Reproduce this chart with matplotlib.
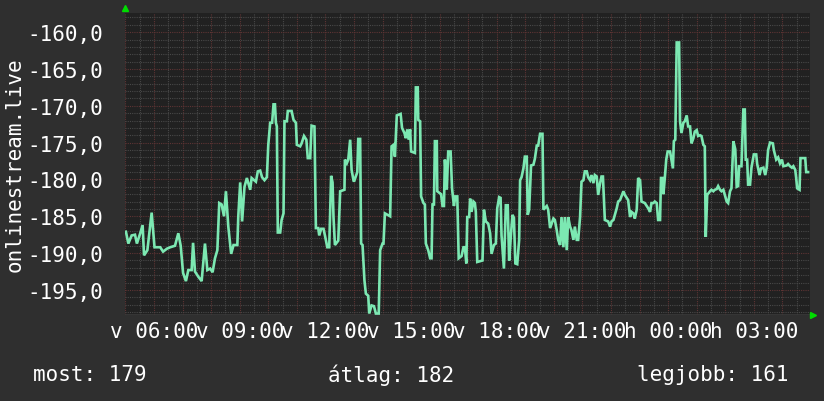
import numpy as np
import matplotlib
matplotlib.use("Agg")
import matplotlib.pyplot as plt
from matplotlib.ticker import MultipleLocator, FixedLocator, FuncFormatter

# minutes since 04:59 (day 1) and signal level
minutes = [
    2, 7, 14, 21, 25, 32, 37, 40, 47, 56, 62, 74, 80, 88, 95, 105, 112, 117, 122, 128,
    133, 140, 143, 147, 154, 161, 168, 173, 179, 184, 189, 194, 198, 203, 208, 212, 217, 223, 228, 236,
    238, 242, 246, 251, 256, 263, 266, 275, 279, 284, 288, 293, 298, 301, 305, 309, 312, 315, 317, 319,
    321, 326, 329, 333, 335, 340, 342, 350, 354, 359, 361, 368, 371, 376, 381, 384, 389, 392, 398, 401,
    406, 408, 412, 417, 420, 425, 429, 433, 436, 438, 441, 448, 452, 461, 462, 466, 469, 473, 476, 480,
    481, 488, 490, 494, 496, 499, 503, 506, 511, 513, 518, 523, 527, 533, 536, 541, 543, 546, 557, 560,
    564, 567, 571, 579, 582, 587, 590, 593, 596, 599, 601, 609, 611, 615, 616, 620, 622, 627, 630, 632,
    637, 641, 644, 646, 649, 651, 655, 656, 664, 667, 670, 672, 676, 679, 684, 687, 691, 694, 698, 701,
    707, 711, 714, 717, 719, 723, 725, 728, 732, 735, 737, 740, 751, 754, 758, 763, 767, 770, 775, 779,
    782, 786, 789, 791, 796, 800, 804, 807, 811, 814, 817, 820, 824, 828, 830, 833, 837, 840, 844, 846,
    849, 853, 858, 861, 865, 868, 872, 877, 879, 886, 889, 893, 900, 903, 907, 910, 914, 917, 921, 924,
    928, 931, 935, 938, 942, 945, 949, 952, 956, 959, 963, 966, 970, 973, 977, 980, 984, 987, 991, 994,
    998, 1001, 1004, 1008, 1015, 1019, 1022, 1026, 1029, 1033, 1036, 1040, 1043, 1047, 1050, 1054, 1057, 1061, 1064, 1068,
    1071, 1075, 1078, 1082, 1085, 1092, 1096, 1099, 1103, 1106, 1110, 1113, 1117, 1120, 1124, 1126, 1129, 1131, 1134, 1137,
    1140, 1145, 1151, 1153, 1156, 1159, 1164, 1166, 1169, 1173, 1176, 1180, 1183, 1187, 1190, 1194, 1197, 1201, 1204, 1208,
    1211, 1215, 1218, 1220, 1223, 1229, 1232, 1236, 1239, 1243, 1246, 1250, 1253, 1257, 1260, 1264, 1267, 1271, 1274, 1278,
    1282, 1285, 1288, 1290, 1295, 1299, 1302, 1304, 1307, 1309, 1313, 1316, 1321, 1326, 1328, 1333, 1336, 1341, 1345, 1348,
    1351, 1355, 1361, 1363, 1368, 1372, 1376, 1380, 1383, 1390, 1393, 1397, 1401, 1404, 1408, 1410, 1412, 1417, 1419, 1429,
    1431, 1435,
]
level = [
    -187.1, -188.7, -187.6, -187.5, -188.7, -187.3, -186.2, -190.3, -189.6, -184.5, -189.2, -189.2, -189.8, -189.4, -189.2, -189.0, -187.3, -189.0, -192.7, -193.8,
    -192.3, -192.3, -188.6, -192.5, -193.2, -193.8, -188.7, -192.3, -192.1, -192.6, -190.7, -189.6, -183.2, -183.4, -185.0, -181.6, -186.4, -190.1, -188.9, -188.9,
    -185.0, -180.4, -185.7, -181.0, -179.8, -181.4, -179.8, -180.3, -178.9, -178.8, -179.7, -180.1, -179.7, -175.3, -172.3, -172.3, -169.8, -169.8, -172.3, -172.8,
    -187.2, -187.2, -185.5, -184.6, -172.1, -172.1, -170.7, -170.7, -171.9, -172.3, -175.3, -175.5, -175.1, -174.1, -174.6, -177.1, -177.1, -172.7, -172.8, -186.6,
    -186.6, -187.6, -186.7, -186.7, -187.6, -189.2, -189.2, -179.5, -180.4, -185.1, -188.9, -188.3, -181.6, -181.4, -177.3, -177.8, -177.3, -174.6, -178.7, -180.1,
    -180.3, -179.0, -174.5, -174.5, -188.7, -188.9, -193.7, -195.5, -195.8, -198.2, -197.1, -197.2, -198.2, -198.2, -189.6, -188.7, -188.7, -184.6, -185.0, -175.5,
    -175.3, -176.9, -171.3, -171.1, -173.0, -173.7, -174.4, -173.2, -174.6, -173.2, -176.2, -176.4, -167.5, -167.5, -171.9, -172.1, -182.3, -183.2, -183.4, -188.7,
    -189.6, -190.7, -190.7, -183.4, -183.4, -174.8, -174.8, -181.6, -182.0, -183.6, -183.6, -177.3, -181.4, -176.2, -176.2, -181.2, -183.6, -182.3, -182.3, -190.7,
    -190.4, -189.2, -189.2, -191.4, -185.1, -185.1, -182.6, -184.4, -183.0, -183.2, -184.4, -191.2, -191.0, -184.1, -185.7, -186.0, -187.3, -190.1, -188.9, -188.7,
    -183.9, -182.4, -182.5, -187.6, -192.1, -183.5, -183.5, -191.0, -187.3, -184.8, -185.2, -191.4, -191.5, -188.2, -180.1, -179.7, -178.5, -176.9, -176.9, -184.8,
    -184.1, -178.1, -178.0, -177.2, -175.4, -175.4, -173.8, -173.8, -184.1, -183.6, -184.1, -186.6, -185.3, -185.5, -186.9, -188.2, -188.9, -185.1, -189.2, -185.1,
    -189.6, -185.1, -186.4, -186.9, -188.2, -186.4, -188.2, -188.2, -185.1, -180.3, -180.1, -178.9, -178.9, -179.7, -180.1, -179.4, -180.5, -179.4, -179.6, -182.1,
    -180.5, -179.6, -179.6, -185.5, -185.7, -186.4, -185.7, -185.5, -184.8, -183.9, -183.0, -182.8, -182.3, -181.6, -182.1, -182.5, -182.8, -185.1, -184.4, -184.6,
    -185.3, -184.1, -179.8, -180.1, -183.0, -183.2, -183.6, -183.9, -184.4, -183.2, -183.2, -183.0, -183.2, -185.5, -185.5, -179.8, -179.8, -182.0, -179.8, -177.3,
    -176.2, -176.2, -178.5, -174.8, -174.6, -161.4, -161.4, -172.1, -173.7, -172.3, -172.1, -171.3, -172.8, -172.8, -175.1, -174.4, -173.5, -173.3, -174.1, -174.0,
    -174.1, -175.3, -175.5, -187.8, -182.1, -181.6, -181.4, -181.6, -181.4, -181.3, -180.9, -181.4, -181.6, -181.4, -182.1, -183.0, -183.2, -181.6, -181.2, -174.8,
    -175.9, -181.0, -180.9, -178.2, -178.2, -170.5, -170.5, -177.3, -177.3, -180.7, -180.7, -178.4, -176.6, -176.6, -177.9, -179.4, -178.5, -178.4, -179.4, -178.4,
    -176.0, -175.0, -175.1, -176.0, -177.3, -177.0, -177.8, -177.3, -178.2, -178.1, -177.9, -178.2, -178.4, -178.2, -178.7, -179.8, -181.2, -181.4, -177.1, -177.1,
    -179.0, -179.0,
]
tick_hours = [6, 9, 12, 15, 18, 21, 24, 27]
tick_labels = ["v 06:00", "v 09:00", "v 12:00", "v 15:00", "v 18:00", "v 21:00", "h 00:00", "h 03:00"]
footer = [("most: 179", 33), ("átlag: 182", 328), ("legjobb: 161", 637)]

START = 4 + 59 / 60          # 04:59
SPAN = 1439 / 60
BG, PLOT_BG = "#2f2f2f", "#212121"
MINOR, MAJOR = "#484848", "#5e3434"
LINE = "#7ce8b2"
FONT = "DejaVu Sans Mono"

plt.rcParams["font.family"] = FONT
W, H = 824, 402
fig = plt.figure(figsize=(W / 100, H / 100), dpi=100, facecolor=BG)
ax = fig.add_axes([125 / W, 1 - 316 / H, 685 / W, 302 / H], facecolor=PLOT_BG)

t = START + np.array(minutes) / 60
ax.plot(t, level, color=LINE, lw=1.9, zorder=3, solid_joinstyle="miter")

ax.set_xlim(START, START + SPAN)
ax.set_ylim(-198.4, -157.4)

# grid: dotted gray minor, dotted red major (rrdtool look)
dots = (0, (1, 1))
for h in np.arange(5.5, 29, 1.0):
    ax.axvline(h, color=MINOR, lw=0.8, ls=dots, zorder=1)
for h in np.arange(5, 29, 1.0):
    ax.axvline(h, color=MAJOR, lw=0.8, ls=dots, zorder=1)
for v in np.arange(-198, -157, 1.0):
    if v % 5:
        ax.axhline(v, color=MINOR, lw=0.8, ls=dots, zorder=1)
for v in np.arange(-195, -157, 5.0):
    ax.axhline(v, color=MAJOR, lw=0.8, ls=dots, zorder=1)

ax.xaxis.set_major_locator(FixedLocator(tick_hours))
ax.set_xticklabels(tick_labels)
ax.yaxis.set_major_locator(MultipleLocator(5))
ax.yaxis.set_major_formatter(FuncFormatter(lambda v, _: f"{v:.1f}".replace(".", ",")))
ax.tick_params(axis="both", colors="white", labelsize=15, length=0)
ax.tick_params(axis="x", pad=4)
ax.tick_params(axis="y", pad=16)
for s in ax.spines.values():
    s.set_visible(False)
ax.axhline(-198.4, color="#3a3a3a", lw=1.2, zorder=2)

# little green axis arrows
ax.plot([0], [1.018], marker="^", ms=4, color="#00dd00", transform=ax.transAxes, clip_on=False)
ax.plot([1.005], [0], marker=">", ms=4, color="#00dd00", transform=ax.transAxes, clip_on=False)

fig.text(15 / W, 1 - 165 / H, "onlinestream.live", rotation=90, color="white",
         fontsize=15, ha="center", va="center")
for txt, x in footer:
    fig.text(x / W, 1 - 375 / H, txt, color="white", fontsize=15, ha="left", va="center")

fig.savefig("out.png", dpi=100, facecolor=BG)
